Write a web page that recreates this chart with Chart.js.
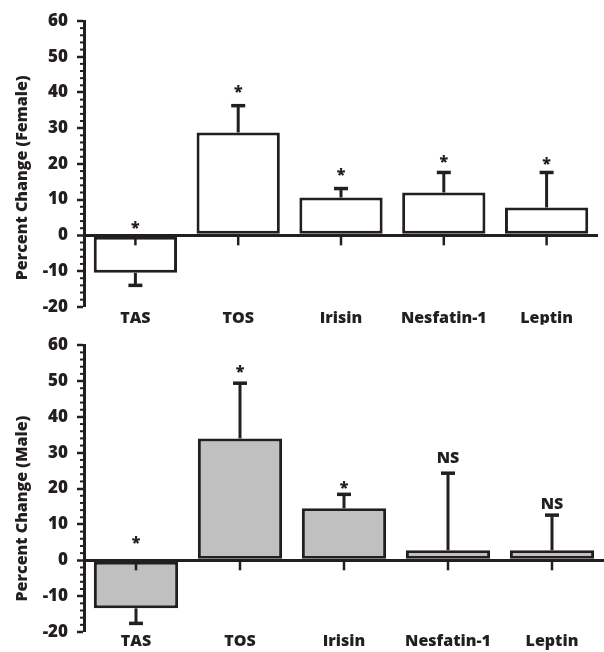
<!DOCTYPE html>
<html><head><meta charset="utf-8">
<script src="https://cdn.jsdelivr.net/npm/chart.js@4"></script>
<style>
html,body{margin:0;padding:0;background:#fff;}
.box{position:relative;width:604px;height:326px;}
</style></head><body>
<div class="box"><canvas id="c1"></canvas></div>
<div class="box"><canvas id="c2"></canvas></div>
<script>
const categories = ['TAS', 'TOS', 'Irisin', 'Nesfatin-1', 'Leptin'];
const femaleValues = [-10.5, 28.8, 10.6, 12.0, 7.8];
const femaleErrors = [3.5, 7.5, 2.5, 5.6, 9.8];
const femaleSig = ['*', '*', '*', '*', '*'];
const femaleSigPos = [3.3, 41.3, 17.9, 21.6, 21.0];
const maleValues = [-13.4, 34.0, 14.5, 2.8, 2.8];
const maleErrors = [4.2, 15.4, 3.9, 21.5, 9.8];
const maleSig = ['*', '*', '*', 'NS', 'NS'];
const maleSigPos = [5.9, 53.6, 21.2, 28.5, 15.6];
const yTicks = { min: -20, max: 60, major: 10, minor: 2 };

const INK = '#231f20';
const FONT = "'Open Sans', sans-serif";
const W = '800';

const decor = {
  id: 'decor',
  afterDatasetsDraw(chart, args, o) {
    const ctx = chart.ctx, xs = chart.scales.x, ys = chart.scales.y;
    const y0 = ys.getPixelForValue(0);
    ctx.save();
    ctx.strokeStyle = INK; ctx.fillStyle = INK;
    categories.forEach((c, i) => {
      const cx = xs.getPixelForValue(i);
      ctx.lineWidth = 2.5;
      ctx.beginPath(); ctx.moveTo(cx, y0); ctx.lineTo(cx, y0 + 10); ctx.stroke();
    });
    o.values.forEach((v, i) => {
      const cx = xs.getPixelForValue(i);
      const end = v + Math.sign(v) * o.errors[i];
      const p1 = ys.getPixelForValue(v), p2 = ys.getPixelForValue(end);
      ctx.lineWidth = 3;
      ctx.beginPath(); ctx.moveTo(cx, p1); ctx.lineTo(cx, p2); ctx.stroke();
      ctx.lineWidth = 3.5;
      ctx.beginPath(); ctx.moveTo(cx - 7, p2); ctx.lineTo(cx + 7, p2); ctx.stroke();
    });
    ctx.textAlign = 'center';
    o.sig.forEach((s, i) => {
      const cx = xs.getPixelForValue(i);
      const py = ys.getPixelForValue(o.sigPos[i]);
      if (s === '*') {
        ctx.font = W + " 16px " + FONT;
        ctx.textBaseline = 'alphabetic';
        ctx.fillText(s, cx, py + 9);
      } else {
        ctx.font = W + " 16px " + FONT;
        ctx.textBaseline = 'middle';
        ctx.fillText(s, cx, py);
      }
    });
    const ax = chart.chartArea.left;
    ctx.lineWidth = 2;
    for (let v = yTicks.min; v <= yTicks.max; v += yTicks.minor) {
      if (v % yTicks.major === 0) continue;
      const py = ys.getPixelForValue(v);
      ctx.beginPath(); ctx.moveTo(ax - 4, py); ctx.lineTo(ax, py); ctx.stroke();
    }
    const ca = chart.chartArea;
    ctx.font = W + " 16px " + FONT;
    ctx.textBaseline = 'middle';
    ctx.translate(22, (ca.top + ca.bottom) / 2 + o.titleShift);
    ctx.rotate(-Math.PI / 2);
    ctx.fillText(o.title, 0, 0);
    ctx.restore();
  }
};

function makeChart(id, values, errors, sig, sigPos, fill, title, pad, xh, xpad, titleShift) {
  return new Chart(document.getElementById(id), {
    type: 'bar',
    data: {
      labels: categories,
      datasets: [{
        data: values,
        backgroundColor: fill,
        borderColor: INK,
        borderWidth: 3,
        borderSkipped: false,
        barPercentage: 0.81,
        categoryPercentage: 1.0
      }]
    },
    plugins: [decor],
    options: {
      responsive: true,
      maintainAspectRatio: false,
      animation: false,
      events: [],
      layout: { padding: pad },
      plugins: {
        legend: { display: false },
        tooltip: { enabled: false },
        decor: { values: values, errors: errors, sig: sig, sigPos: sigPos, title: title, titleShift: titleShift }
      },
      scales: {
        x: {
          grid: { display: false, drawTicks: false },
          border: { display: false },
          ticks: { color: INK, font: { family: FONT, weight: W, size: 16 }, padding: xpad, maxRotation: 0 },
          afterFit: (s) => { s.height = xh; }
        },
        y: {
          min: yTicks.min, max: yTicks.max,
          border: { display: true, color: INK, width: 3 },
          grid: {
            drawOnChartArea: true,
            color: (c) => (c.tick && c.tick.value === 0) ? INK : 'rgba(0,0,0,0)',
            lineWidth: (c) => (c.tick && c.tick.value === 0) ? 3 : 0,
            tickColor: INK, tickLength: 7, tickWidth: 2.5
          },
          ticks: { stepSize: yTicks.major, color: INK, font: { family: FONT, weight: W, size: 17 }, padding: 9 },
          afterFit: (s) => { s.width = 84; }
        }
      }
    }
  });
}

makeChart('c1', femaleValues, femaleErrors, femaleSig, femaleSigPos, '#ffffff', 'Percent Change (Female)', { top: 21, right: 6, left: 0, bottom: 0 }, 18, 2, 14);
makeChart('c2', maleValues, maleErrors, maleSig, maleSigPos, '#c0c0c0', 'Percent Change (Male)', { top: 18, right: 0, left: 0, bottom: 0 }, 20, 0, 20);
</script>
</body></html>
